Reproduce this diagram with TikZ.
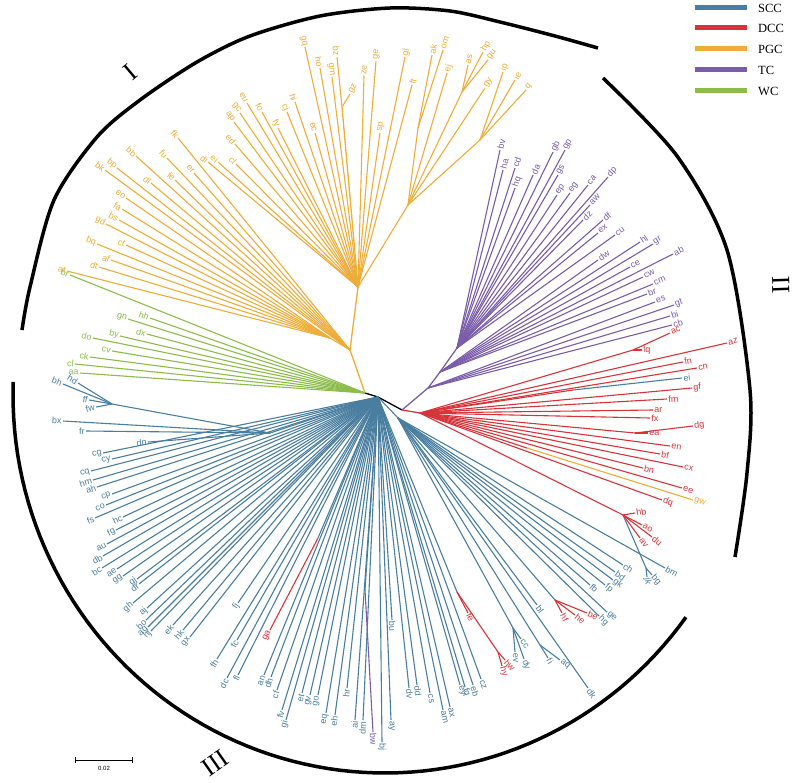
\documentclass[tikz,border=0pt]{standalone}
\usepackage{fontspec}
\setmainfont{Liberation Serif}
\setsansfont{Liberation Sans}
\usetikzlibrary{arrows.meta}

\definecolor{scc}{RGB}{74,126,160}
\definecolor{dcc}{RGB}{214,52,58}
\definecolor{pgc}{RGB}{238,172,56}
\definecolor{tc}{RGB}{122,92,170}
\definecolor{wc}{RGB}{140,188,74}

% leaf: parent, tip x, tip y, label, colour
\makeatletter
\newcommand\leaf[5]{%
  \draw[twig,draw=#5] (#1) -- (#2,#3) coordinate (tip);
  \pgfpointdiff{\pgfpointanchor{#1}{center}}{\pgfpointanchor{tip}{center}}%
  \edef\ldx{\the\pgf@x}\edef\ldy{\the\pgf@y}%
  \pgfmathsetmacro\lang{atan2(\ldy,\ldx)}%
  \ifdim\lang pt>90pt \pgfmathsetmacro\lrot{\lang-180}\def\lanc{east}%
  \else\ifdim\lang pt<-90pt \pgfmathsetmacro\lrot{\lang+180}\def\lanc{east}%
  \else \let\lrot\lang\def\lanc{west}\fi\fi
  \node[lbl,text=#5,rotate=\lrot,anchor=\lanc] (lab#4) at (tip) {#4};}
\makeatother

\begin{document}
\begin{tikzpicture}[x=1pt, y=-1pt,
    twig/.style={line width=1.1pt},
    stem/.style={line width=1.3pt},
    lbl/.style={font=\sffamily\fontsize{9}{9}\selectfont, inner sep=1.2pt},
    ring/.style={line width=3.5pt},
    numeral/.style={font=\fontsize{26}{26}\selectfont},
    keytext/.style={anchor=west, font=\fontsize{12.5}{12.5}\selectfont, inner sep=0pt}
]
\useasboundingbox (0,0) rectangle (800,782);

% groups I, II, III
\draw[ring] plot[smooth] coordinates {(22,330) (30,287) (54,200) (97,137) (140,100) (197,62) (250,36) (320,16) (390,8) (450,11) (500,22) (555,36) (598,48)};
\draw[ring] plot[smooth] coordinates {(603,78) (677,156) (727,250) (750,390) (747,473) (735,557)};
\draw[ring] plot[domain=178:324, samples=80] ({385+372*cos(\x)}, {395-378*sin(\x)});
\node[numeral, rotate=40] (g1) at (130,72) {I};
\node[numeral, rotate=-88] (g2) at (781,285) {II};
\node[numeral, rotate=35] (g3) at (215,763) {III};

% legend
\foreach \yy/\cc/\tt in {7/scc/SCC, 27/dcc/DCC, 48/pgc/PGC, 69/tc/TC, 90/wc/WC}{
  \draw[\cc, line width=5pt] (695,\yy) -- (747,\yy);
  \node[keytext] (key\tt) at (758,\yy+1) {\tt};
}

% scale bar
\coordinate (sbl) at (75,760);
\coordinate (sbr) at (133,760);
\draw[line width=0.9pt, {Bar[width=6pt]}-{Bar[width=6pt]}] (sbl) -- (sbr);
\node[font=\sffamily\fontsize{6}{6}\selectfont] (sbt) at (104,768) {0.02};

% inner nodes
\coordinate (nA) at (365,393);
\coordinate (nB) at (378,397);
\coordinate (nC) at (402,410);
\coordinate (oS1) at (350,350);
\coordinate (oS2) at (358,287);
\coordinate (oL) at (330,338);
\coordinate (oZ) at (342,107);
\coordinate (oR) at (408,205);
\coordinate (oAO) at (418,128);
\coordinate (oHP) at (462,92);
\coordinate (oQ) at (480,140);
\coordinate (pA) at (428,388);
\coordinate (pM) at (440,372);
\coordinate (pB) at (457,348);
\coordinate (rA) at (420,413);
\coordinate (rAC) at (633,350);
\coordinate (rEI) at (573,390);
\coordinate (rDG) at (635,433);
\coordinate (rGW) at (527,448);
\coordinate (rHB) at (623,515);
\coordinate (bL) at (270,433);
\coordinate (bHF) at (112,404);
\coordinate (bR2) at (398,418);
\coordinate (gaN) at (318,538);
\coordinate (bwN) at (365,590);
\coordinate (feN) at (457,592);
\coordinate (rHW) at (498,652);
\coordinate (rHF) at (555,600);
\coordinate (bCC) at (513,628);
\coordinate (bFA) at (540,645);
\coordinate (bBG) at (646,568);

% backbone
\draw[stem] (nA) -- (nB) -- (nC);
\draw[stem,pgc] (nA) -- (oS1) -- (oS2) -- (oZ);
\draw[twig,pgc] (oS1) -- (oL);
\draw[twig,pgc] (oS2) -- (oR) -- (oAO);
\draw[twig,pgc] (oR) -- (oHP);
\draw[twig,pgc] (oR) -- (oQ);
\draw[stem,tc] (nC) -- (pA) -- (pM) -- (pB);
\draw[stem,dcc] (nC) -- (rA);
\draw[twig,dcc] (rA) -- (rAC);
\draw[twig,dcc] (rA) -- (rEI);
\draw[twig,dcc] (rA) -- (rDG);
\draw[twig,dcc] (rA) -- (rGW);
\draw[twig,dcc] (rA) -- (rHB);
\draw[twig,scc] (rHB) -- (bBG);
\draw[twig,scc] (nB) -- (bL) -- (bHF);
\draw[twig,scc] (nB) -- (bR2);
\draw[twig,scc] (nB) -- (gaN);
\draw[twig,scc] (nB) -- (bwN);
\draw[twig,scc] (nB) -- (feN);
\draw[twig,dcc] (feN) -- (rHW);
\draw[twig,scc] (bR2) -- (rHF);
\draw[twig,scc] (bR2) -- (bCC);
\draw[twig,scc] (bR2) -- (bFA);

% PGC
\foreach \px/\py/\nm in {305/47/gq, 320/68/ho, 332/77/gm, 364/76/ze, 376/61/ge, 380/133/sp, 405/57/gl, 412/85/ft, 315/133/ec, 295/102/hi, 287/112/cj, 278/128/fy, 262/112/fo, 247/103/eu, 240/113/gc, 234/122/ap, 235/144/ed, 236/164/cl, 218/162/ei, 208/162/di}
  {\leaf{oS2}{\px}{\py}{\nm}{pgc}}
\foreach \px/\py/\nm in {337/57/bz, 350/94/gz}
  {\leaf{oZ}{\px}{\py}{\nm}{pgc}}
\foreach \px/\py/\nm in {178/138/fk, 167/158/fu, 194/173/er, 175/180/fe, 151/183/dl, 136/156/bb, 117/168/bp, 105/170/bk}
  {\leaf{oS1}{\px}{\py}{\nm}{pgc}}
\foreach \px/\py/\nm in {126/198/eo, 122/209/fa, 119/220/bs, 106/224/gd, 97/244/bq, 126/245/ct, 111/260/af, 99/267/dt, 67/271/at}
  {\leaf{oL}{\px}{\py}{\nm}{pgc}}
\foreach \px/\py/\nm in {447/73/ej, 485/88/gy}
  {\leaf{oR}{\px}{\py}{\nm}{pgc}}
\foreach \px/\py/\nm in {432/55/ak, 443/50/om}
  {\leaf{oAO}{\px}{\py}{\nm}{pgc}}
\foreach \px/\py/\nm in {468/65/as, 483/52/hp, 488/60/gu}
  {\leaf{oHP}{\px}{\py}{\nm}{pgc}}
\foreach \px/\py/\nm in {503/72/ip, 515/80/ie, 526/90/q}
  {\leaf{oQ}{\px}{\py}{\nm}{pgc}}
\leaf{rGW}{693}{500}{gw}{pgc}

% WC
\foreach \px/\py/\nm in {70/275/br, 150/318/hh, 128/319/gn, 147/334/dx, 120/336/by, 93/338/do, 112/351/cv, 90/357/ck, 75/364/cl, 80/373/aa}
  {\leaf{nA}{\px}{\py}{\nm}{wc}}

% TC
\foreach \px/\py/\nm in {500/150/bv, 503/170/ha, 515/168/cd, 515/188/hq, 533/175/da, 553/152/gb, 565/150/gp, 558/175/gs, 557/195/ep, 570/193/eg, 588/185/ca, 608/177/dp, 590/205/aw, 583/220/dz, 603/220/df, 598/233/ex, 615/235/cu}
  {\leaf{pB}{\px}{\py}{\nm}{tc}}
\foreach \px/\py/\nm in {598/260/dw, 640/242/hl, 653/244/gr, 673/254/ab, 630/267/ce, 643/277/cw, 653/284/cm, 647/294/br}
  {\leaf{pM}{\px}{\py}{\nm}{tc}}
\foreach \px/\py/\nm in {655/302/es, 674/305/gt, 670/316/bi, 672/325/cb}
  {\leaf{pA}{\px}{\py}{\nm}{tc}}
\leaf{bwN}{373}{732}{bw}{tc}

% DCC
\foreach \px/\py/\nm in {727/343/az, 683/362/fn, 697/368/cn, 692/388/gf, 667/399/fm, 653/410/ar, 650/418/fx, 670/446/en, 660/454/bf, 683/467/cx, 643/468/bn, 682/488/ee, 662/500/dq}
  {\leaf{rA}{\px}{\py}{\nm}{dcc}}
\foreach \px/\py/\nm in {670/333/ac, 642/350/lq}
  {\leaf{rAC}{\px}{\py}{\nm}{dcc}}
\foreach \px/\py/\nm in {693/426/dg, 648/433/ea}
  {\leaf{rDG}{\px}{\py}{\nm}{dcc}}
\foreach \px/\py/\nm in {635/513/hb, 642/525/ao, 652/537/du, 640/538/av}
  {\leaf{rHB}{\px}{\py}{\nm}{dcc}}
\foreach \px/\py/\nm in {562/613/hf, 575/615/he, 587/613/be}
  {\leaf{rHF}{\px}{\py}{\nm}{dcc}}
\foreach \px/\py/\nm in {505/660/hw, 502/666/hy}
  {\leaf{rHW}{\px}{\py}{\nm}{dcc}}
\leaf{feN}{468}{613}{fe}{dcc}
\leaf{gaN}{270}{630}{ga}{dcc}

% SCC
\foreach \px/\py/\nm in {78/383/hd, 63/384/bh, 89/400/ff, 96/407/fw}
  {\leaf{bHF}{\px}{\py}{\nm}{scc}}
\foreach \px/\py/\nm in {63/421/bx, 86/431/fr, 148/442/dn}
  {\leaf{bL}{\px}{\py}{\nm}{scc}}
\foreach \px/\py/\nm in {103/453/cg, 112/459/cy, 91/471/cq, 93/480/hm, 97/487/ah, 112/494/cp, 106/505/co, 95/518/fs, 123/517/hc, 116/530/fg, 107/544/au, 103/556/db, 102/568/bc, 117/569/ae, 123/576/gg, 137/579/gj, 139/584/dr, 133/603/gh, 147/608/aj, 146/620/bo, 148/627/ag, 151/631/hj, 173/625/ek, 183/630/hk, 190/637/gx, 238/603/fj, 217/659/fh, 237/640/fc, 227/678/dc, 238/675/fl, 264/675/an, 271/677/dh, 277/690/cf, 282/710/fv, 286/720/gi, 302/693/et, 310/695/gv, 318/695/go, 326/713/eq, 335/715/eh, 347/688/hr, 355/720/ai, 363/720/dm, 382/742/bj, 391/720/ay, 392/620/bu, 409/688/dv, 417/685/dd, 430/693/cs, 443/710/am, 450/707/ax, 460/685/ey, 465/687/fq, 473/685/eb, 481/679/cz}
  {\leaf{nB}{\px}{\py}{\nm}{scc}}
\foreach \px/\py/\nm in {537/605/bl, 599/616/hg, 607/612/ge, 590/585/fb, 605/585/fp, 613/580/gk, 615/572/bd, 623/565/ch, 665/568/bm, 588/688/dk}
  {\leaf{bR2}{\px}{\py}{\nm}{scc}}
\foreach \px/\py/\nm in {521/639/cc, 515/652/ev, 524/659/dy}
  {\leaf{bCC}{\px}{\py}{\nm}{scc}}
\foreach \px/\py/\nm in {548/658/fi, 560/660/aq}
  {\leaf{bFA}{\px}{\py}{\nm}{scc}}
\foreach \px/\py/\nm in {652/575/bg, 647/577/jk}
  {\leaf{bBG}{\px}{\py}{\nm}{scc}}
\leaf{rEI}{682}{378}{ei}{scc}
\end{tikzpicture}
\end{document}
